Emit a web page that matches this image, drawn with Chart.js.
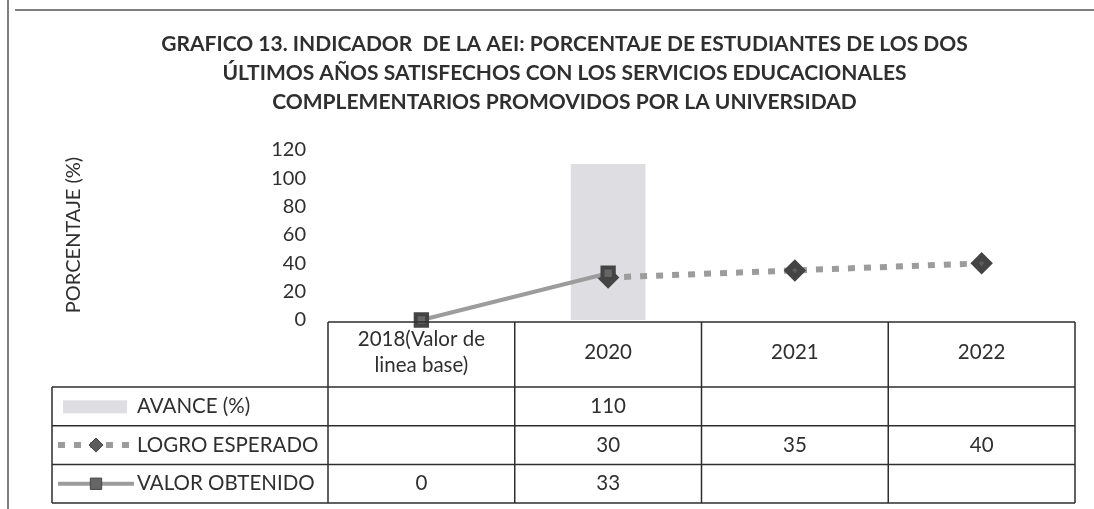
<!DOCTYPE html>
<html>
<head>
<meta charset="utf-8">
<script src="https://cdn.jsdelivr.net/npm/chart.js@4/dist/chart.umd.min.js"></script>
<style>
    html, body { margin: 0; padding: 0; background: #fff; }
</style>
</head>
<body>
<canvas id="chart" width="1094" height="509"></canvas>
<script>
const titleLines = [
    'GRAFICO 13. INDICADOR  DE LA AEI: PORCENTAJE DE ESTUDIANTES DE LOS DOS',
    'ÚLTIMOS AÑOS SATISFECHOS CON LOS SERVICIOS EDUCACIONALES',
    'COMPLEMENTARIOS PROMOVIDOS POR LA UNIVERSIDAD'
];
const categories = [['2018(Valor de', 'linea base)'], '2020', '2021', '2022'];
const avance = [null, 110, null, null];
const logroEsperado = [null, 30, 35, 40];
const valorObtenido = [0, 33, null, null];
const yTicks = [0, 20, 40, 60, 80, 100, 120];

const FONT = 'Lato';
const TEXT = '#2f2f2f';
const LINE = '#9c9c9c';

// data table under the plot, columns follow the x scale
const dataTable = {
    id: 'dataTable',
    afterDraw(chart) {
        const { ctx, chartArea, scales: { x } } = chart;
        const n = categories.length;
        const colW = chartArea.width / n;
        const left = chartArea.left;
        const right = chartArea.right;
        const top = chartArea.bottom + 2;
        const headerH = 65;
        const rowH = 38.7;
        const legLeft = 52;
        const rows = chart.data.datasets;

        ctx.save();
        ctx.strokeStyle = '#2e2e2e';
        ctx.lineWidth = 1.5;

        ctx.beginPath();
        ctx.moveTo(left, top); ctx.lineTo(right, top);
        ctx.moveTo(legLeft, top + headerH); ctx.lineTo(right, top + headerH);
        for (let r = 1; r <= rows.length; r++) {
            ctx.moveTo(legLeft, top + headerH + r * rowH);
            ctx.lineTo(right, top + headerH + r * rowH);
        }
        for (let i = 0; i <= n; i++) {
            ctx.moveTo(left + i * colW, top);
            ctx.lineTo(left + i * colW, top + headerH + rows.length * rowH);
        }
        ctx.moveTo(legLeft, top + headerH);
        ctx.lineTo(legLeft, top + headerH + rows.length * rowH);
        ctx.stroke();

        ctx.fillStyle = TEXT;
        ctx.font = '20.5px ' + FONT;
        ctx.textAlign = 'center';
        ctx.textBaseline = 'middle';
        categories.forEach((c, i) => {
            const cx = x.getPixelForValue(i);
            const lines = Array.isArray(c) ? c : [c];
            lines.forEach((t, k) => {
                ctx.fillText(t, cx, top + headerH / 2 - 2 + (k - (lines.length - 1) / 2) * 26);
            });
        });

        rows.forEach((ds, r) => {
            const cy = top + headerH + r * rowH + rowH / 2;
            ds.data.forEach((v, i) => {
                if (v === null) return;
                ctx.fillStyle = TEXT;
                ctx.textAlign = 'center';
                ctx.fillText(String(v), x.getPixelForValue(i), cy);
            });
            // legend key
            if (ds.type === 'bar') {
                ctx.fillStyle = ds.backgroundColor;
                ctx.fillRect(63, cy - 6, 64, 13);
            } else {
                ctx.strokeStyle = ds.borderColor;
                ctx.lineWidth = ds.borderWidth;
                ctx.setLineDash(ds.borderDash || []);
                ctx.beginPath();
                ctx.moveTo(58, cy); ctx.lineTo(134, cy);
                ctx.stroke();
                ctx.setLineDash([]);
                ctx.fillStyle = ds.pointBackgroundColor;
                ctx.strokeStyle = ds.pointBorderColor;
                ctx.lineWidth = 1;
                Chart.helpers.drawPoint(ctx, {
                    pointStyle: ds.pointStyle, radius: ds.pointRadius, borderWidth: 1, rotation: 0
                }, 96, cy);
            }
            ctx.fillStyle = TEXT;
            ctx.textAlign = 'left';
            ctx.fillText(ds.label, 137, cy);
        });

        // page frame lines
        ctx.strokeStyle = '#555';
        ctx.lineWidth = 1.5;
        ctx.beginPath();
        ctx.moveTo(15, 10); ctx.lineTo(1094, 10);
        ctx.moveTo(8, 0); ctx.lineTo(8, 509);
        ctx.stroke();
        ctx.restore();
    }
};

new Chart(document.getElementById('chart'), {
    type: 'bar',
    data: {
        labels: categories,
        datasets: [{
            type: 'bar',
            label: 'AVANCE (%)',
            data: avance,
            backgroundColor: '#dedee2',
            categoryPercentage: 0.5,
            barPercentage: 0.8,
            order: 3
        }, {
            type: 'line',
            label: 'LOGRO ESPERADO',
            data: logroEsperado,
            borderColor: LINE,
            borderWidth: 6,
            borderDash: [7, 9],
            borderCapStyle: 'butt',
            pointStyle: 'rectRot',
            pointRadius: 7,
            pointBackgroundColor: '#5c5c5c',
            pointBorderColor: '#444',
            fill: false,
            clip: false,
            order: 2
        }, {
            type: 'line',
            label: 'VALOR OBTENIDO',
            data: valorObtenido,
            borderColor: LINE,
            borderWidth: 4,
            pointStyle: 'rect',
            pointRadius: 8,
            pointBackgroundColor: '#666',
            pointBorderColor: '#444',
            fill: false,
            clip: false,
            order: 1
        }]
    },
    options: {
        responsive: false,
        animation: false,
        layout: {
            padding: { left: 54, right: 19, top: 0, bottom: 189 }
        },
        scales: {
            x: {
                display: false
            },
            y: {
                min: 0,
                max: 120,
                afterBuildTicks: s => { s.ticks = yTicks.map(v => ({ value: v })); },
                afterFit: s => { s.width = 274; },
                grid: { display: false, drawTicks: false },
                border: { display: false },
                ticks: {
                    color: TEXT,
                    font: { family: FONT, size: 20 },
                    padding: 22
                },
                title: {
                    display: true,
                    text: 'PORCENTAJE (%)',
                    color: TEXT,
                    font: { family: FONT, size: 20 },
                    padding: { top: 8, bottom: 0 }
                }
            }
        },
        plugins: {
            legend: { display: false },
            tooltip: { enabled: false },
            title: {
                display: true,
                text: titleLines,
                color: TEXT,
                font: { family: FONT, size: 21, weight: 'bold', lineHeight: 1.38 },
                padding: { top: 30, bottom: 33 }
            }
        }
    },
    plugins: [dataTable]
});
</script>
</body>
</html>
